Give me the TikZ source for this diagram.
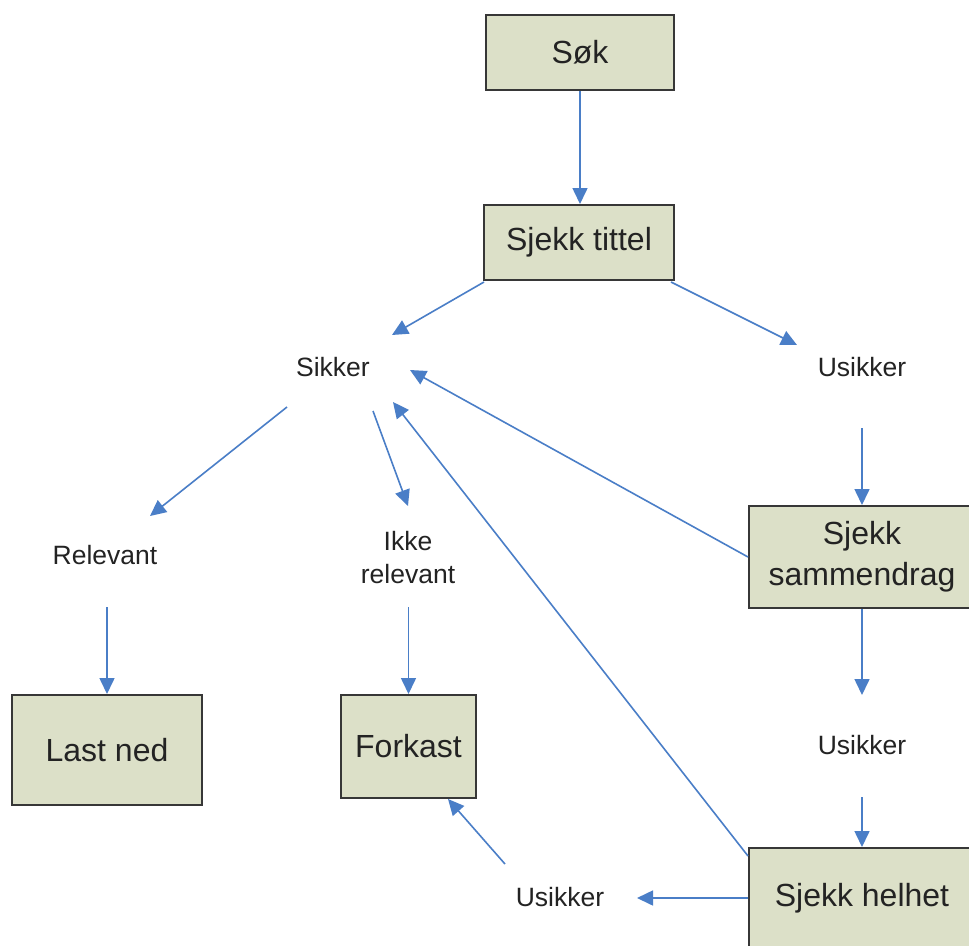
\documentclass[tikz,border=0pt]{standalone}
\usepackage{fontspec}
\setmainfont{Liberation Sans}
\usetikzlibrary{arrows.meta,calc}
\definecolor{boxfill}{RGB}{220,224,200}
\definecolor{boxline}{RGB}{55,55,55}
\definecolor{arrowblue}{RGB}{74,126,199}
\definecolor{txt}{RGB}{35,35,35}
\begin{document}
\begin{tikzpicture}[x=1pt,y=-1pt,
  box/.style={draw=boxline, line width=2pt, fill=boxfill, text=txt, align=center,
    inner sep=0pt, font=\fontsize{32}{41}\selectfont},
  lbl/.style={text=txt, align=center, inner sep=0pt, font=\fontsize{26.5}{33}\selectfont},
  flow/.style={draw=arrowblue, line width=1.6pt, -{Triangle[length=16pt,width=15pt]}}]
\clip (0,0) rectangle (969,945);
\fill[white] (0,0) rectangle (969,945);
% boxes
\node[box, minimum width=188pt, minimum height=75pt] (sok) at (580,52.5) {Søk};
\node[box, minimum width=190pt, minimum height=75pt] (tittel) at (579,242.5) {Sjekk tittel};
\node[box, minimum width=226pt, minimum height=102pt] (samm) at (862,557) {Sjekk\\sammendrag};
\node[box, minimum width=226pt, minimum height=100pt] (helhet) at (862,898) {Sjekk helhet};
\node[box, minimum width=190pt, minimum height=110pt] (lastned) at (107,750) {Last ned};
\node[box, minimum width=135pt, minimum height=103pt] (forkast) at (408.5,746.5) {Forkast};
% labels
\node[lbl] (sikker) at (333,367) {Sikker};
\node[lbl] (usikker1) at (862,367) {Usikker};
\node[lbl] (relevant) at (105,555) {Relevant};
\node[lbl] (ikke) at (408,558) {Ikke\\relevant};
\node[lbl] (usikker2) at (862,745) {Usikker};
\node[lbl] (usikker3) at (560,897) {Usikker};
% free ends
\coordinate (c2) at (392,335);
\coordinate (c3) at (797,345);
\coordinate (c4s) at (287,407);
\coordinate (c4e) at (150,516);
\coordinate (c5s) at (373,411);
\coordinate (c5e) at (408,506);
\coordinate (c6) at (410,370);
\coordinate (c7) at (393,402);
\coordinate (c8) at (862,428);
\coordinate (c9) at (107,607);
\coordinate (c10) at (408.5,607);
\coordinate (c11) at (862,695);
\coordinate (c12) at (862,797);
\coordinate (c13) at (637,898);
\coordinate (c14s) at (505,864);
\coordinate (c14e) at (448,799);
% connectors
\draw[flow] (sok.south) -- (sok.south |- tittel.north);
\draw[flow] ($(tittel.south west)+(1,1)$) -- (c2);
\draw[flow] ($(tittel.south east)+(-4,1)$) -- (c3);
\draw[flow] (c4s) -- (c4e);
\draw[flow] (c5s) -- (c5e);
\draw[flow] (samm.west) -- (c6);
\draw[flow] ($(helhet.north west)+(0,9)$) -- (c7);
\draw[flow] (c8) -- (samm.north);
\draw[flow] (c9) -- (lastned.north);
\draw[flow] (c10) -- (forkast.north);
\draw[flow] (samm.south) -- (c11);
\draw[flow] (c12) -- (helhet.north);
\draw[flow] (helhet.west) -- (c13);
\draw[flow] (c14s) -- (c14e);
\end{tikzpicture}
\end{document}
